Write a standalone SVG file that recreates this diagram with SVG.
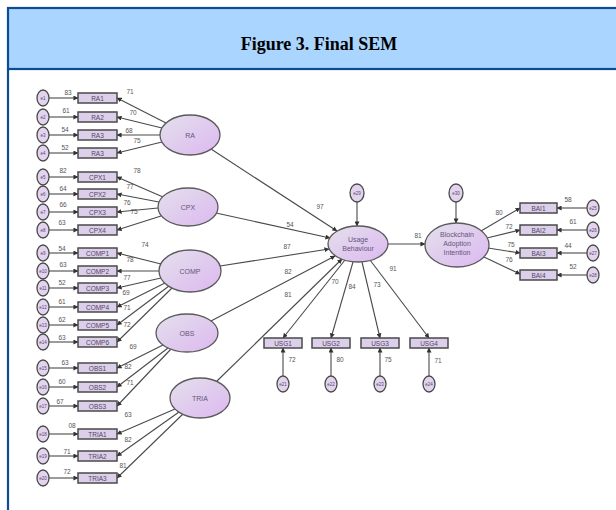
<svg xmlns="http://www.w3.org/2000/svg" width="616" height="510" viewBox="0 0 616 510">
<defs>
<marker id="ah" viewBox="0 0 6 6" refX="5.5" refY="3" markerWidth="5" markerHeight="5" orient="auto" markerUnits="userSpaceOnUse">
<path d="M0,0 L6,3 L0,6 Z" fill="#333"/>
</marker>
<linearGradient id="lg" x1="0" y1="0" x2="1" y2="1">
<stop offset="0" stop-color="#e4e0ec"/>
<stop offset="1" stop-color="#dcb8f0"/>
</linearGradient>
</defs>
<style>
.lat{fill:url(#lg);stroke:#5a5a5a;stroke-width:1.3}
.obs{fill:#dccfea;stroke:#4a4a4a;stroke-width:1.5}
.err{fill:#e2d4ee;stroke:#4a4a4a;stroke-width:1.3}
.ln{stroke:#4a4a4a;stroke-width:1.1;fill:none;marker-end:url(#ah)}
.t{font-family:"Liberation Sans",Arial,sans-serif;font-size:6.5px;fill:#554466;text-anchor:middle}
.n{font-family:"Liberation Sans",Arial,sans-serif;font-size:6.5px;fill:#555;text-anchor:middle}
.e{font-family:"Liberation Sans",Arial,sans-serif;font-size:4.5px;fill:#554466;text-anchor:middle}
.lt{font-family:"Liberation Sans",Arial,sans-serif;font-size:7px;fill:#65557a;text-anchor:middle}
</style>
<rect x="0" y="0" width="616" height="510" fill="#fff"/>
<g id="header">
<rect x="8" y="8" width="612" height="61" fill="#a9d5ff" stroke="#0b4c92" stroke-width="2.2"/>
<line x1="8" y1="69" x2="8" y2="510" stroke="#0b4c92" stroke-width="2.2"/>
<text x="319" y="50" font-family="Liberation Serif,'Times New Roman',serif" font-weight="bold" font-size="18" text-anchor="middle" fill="#000">Figure 3. Final SEM</text>
</g>
<g id="connectors">
<line class="ln" x1="49" y1="98" x2="78" y2="98"/>
<line class="ln" x1="49" y1="117" x2="78" y2="117"/>
<line class="ln" x1="49" y1="135" x2="78" y2="135"/>
<line class="ln" x1="49" y1="153" x2="78" y2="153"/>
<line class="ln" x1="49" y1="177" x2="78" y2="177"/>
<line class="ln" x1="49" y1="194" x2="78" y2="194"/>
<line class="ln" x1="49" y1="212" x2="78" y2="212"/>
<line class="ln" x1="49" y1="230" x2="78" y2="230"/>
<line class="ln" x1="49" y1="253" x2="78" y2="253"/>
<line class="ln" x1="49" y1="271" x2="78" y2="271"/>
<line class="ln" x1="49" y1="288" x2="78" y2="288"/>
<line class="ln" x1="49" y1="307" x2="78" y2="307"/>
<line class="ln" x1="49" y1="325" x2="78" y2="325"/>
<line class="ln" x1="49" y1="342" x2="78" y2="342"/>
<line class="ln" x1="49" y1="368" x2="78" y2="368"/>
<line class="ln" x1="49" y1="387" x2="78" y2="387"/>
<line class="ln" x1="49" y1="406" x2="78" y2="406"/>
<line class="ln" x1="49" y1="434" x2="78" y2="434"/>
<line class="ln" x1="49" y1="456" x2="78" y2="456"/>
<line class="ln" x1="49" y1="478" x2="78" y2="478"/>
<line class="ln" x1="166" y1="123" x2="117" y2="98"/>
<line class="ln" x1="162" y1="128" x2="117" y2="117"/>
<line class="ln" x1="160" y1="135" x2="117" y2="135"/>
<line class="ln" x1="162" y1="142" x2="117" y2="153"/>
<line class="ln" x1="163" y1="197" x2="117" y2="177"/>
<line class="ln" x1="159" y1="202" x2="117" y2="194"/>
<line class="ln" x1="158" y1="208" x2="117" y2="212"/>
<line class="ln" x1="161" y1="216" x2="117" y2="230"/>
<line class="ln" x1="161" y1="264" x2="117" y2="253"/>
<line class="ln" x1="159" y1="271" x2="117" y2="271"/>
<line class="ln" x1="161" y1="278" x2="117" y2="288"/>
<line class="ln" x1="165" y1="283" x2="117" y2="307"/>
<line class="ln" x1="169" y1="286" x2="117" y2="325"/>
<line class="ln" x1="172" y1="288" x2="117" y2="342"/>
<line class="ln" x1="163" y1="345" x2="117" y2="368"/>
<line class="ln" x1="168" y1="348" x2="117" y2="387"/>
<line class="ln" x1="171" y1="349" x2="117" y2="406"/>
<line class="ln" x1="175" y1="409" x2="117" y2="434"/>
<line class="ln" x1="179" y1="412" x2="117" y2="456"/>
<line class="ln" x1="183" y1="414" x2="117" y2="478"/>
<line class="ln" x1="211" y1="149" x2="337" y2="231"/>
<line class="ln" x1="216" y1="213" x2="330" y2="238"/>
<line class="ln" x1="220" y1="266" x2="329" y2="249"/>
<line class="ln" x1="211" y1="321" x2="335" y2="256"/>
<line class="ln" x1="217" y1="381" x2="342" y2="259"/>
<line class="ln" x1="388" y1="244" x2="425" y2="244"/>
<line class="ln" x1="357" y1="202" x2="357" y2="226"/>
<line class="ln" x1="456" y1="202" x2="456" y2="223"/>
<line class="ln" x1="345" y1="260" x2="283" y2="338"/>
<line class="ln" x1="353" y1="262" x2="331" y2="338"/>
<line class="ln" x1="362" y1="262" x2="380" y2="338"/>
<line class="ln" x1="370" y1="260" x2="429" y2="338"/>
<line class="ln" x1="283" y1="376" x2="283" y2="348"/>
<line class="ln" x1="331" y1="376" x2="331" y2="348"/>
<line class="ln" x1="380" y1="376" x2="380" y2="348"/>
<line class="ln" x1="429" y1="376" x2="429" y2="348"/>
<line class="ln" x1="481" y1="231" x2="520" y2="208"/>
<line class="ln" x1="487" y1="238" x2="520" y2="230"/>
<line class="ln" x1="488" y1="248" x2="520" y2="253"/>
<line class="ln" x1="484" y1="257" x2="520" y2="274"/>
<line class="ln" x1="587" y1="208" x2="557" y2="208"/>
<line class="ln" x1="587" y1="230" x2="557" y2="230"/>
<line class="ln" x1="587" y1="253" x2="557" y2="253"/>
<line class="ln" x1="587" y1="275" x2="557" y2="275"/>
</g>
<g id="labels">
<text class="n" x="68" y="95">83</text><text class="n" x="66" y="113">61</text><text class="n" x="65" y="132">54</text><text class="n" x="65" y="150">52</text>
<text class="n" x="130" y="94">71</text><text class="n" x="133" y="115">70</text><text class="n" x="129" y="133">68</text><text class="n" x="137" y="143">75</text>
<text class="n" x="63" y="173">82</text><text class="n" x="63" y="191">64</text><text class="n" x="63" y="207">66</text><text class="n" x="62" y="225">63</text>
<text class="n" x="137" y="173">78</text><text class="n" x="130" y="189">77</text><text class="n" x="127" y="205">76</text><text class="n" x="134" y="214">75</text>
<text class="n" x="62" y="251">54</text><text class="n" x="63" y="267">63</text><text class="n" x="62" y="285">52</text><text class="n" x="62" y="304">61</text><text class="n" x="62" y="322">62</text><text class="n" x="62" y="340">63</text>
<text class="n" x="145" y="247">74</text><text class="n" x="130" y="262">78</text><text class="n" x="127" y="280">77</text><text class="n" x="126" y="295">69</text><text class="n" x="127" y="310">71</text><text class="n" x="127" y="327">72</text>
<text class="n" x="65" y="365">63</text><text class="n" x="62" y="384">60</text><text class="n" x="60" y="404">67</text>
<text class="n" x="133" y="349">69</text><text class="n" x="128" y="369">82</text><text class="n" x="130" y="385">71</text>
<text class="n" x="72" y="428">08</text><text class="n" x="67" y="454">71</text><text class="n" x="67" y="474">72</text>
<text class="n" x="128" y="417">63</text><text class="n" x="128" y="442">82</text><text class="n" x="123" y="468">81</text>
<text class="n" x="320" y="209">97</text><text class="n" x="290" y="227">54</text><text class="n" x="287" y="249">87</text><text class="n" x="288" y="274">82</text><text class="n" x="288" y="297">81</text>
<text class="n" x="335" y="284">70</text><text class="n" x="352" y="289">84</text><text class="n" x="377" y="287">73</text><text class="n" x="393" y="271">91</text>
<text class="n" x="292" y="362">72</text><text class="n" x="340" y="362">80</text><text class="n" x="388" y="362">75</text><text class="n" x="438" y="363">71</text>
<text class="n" x="418" y="238">81</text>
<text class="n" x="499" y="215">80</text><text class="n" x="509" y="229">72</text><text class="n" x="511" y="247">75</text><text class="n" x="509" y="262">76</text>
<text class="n" x="568" y="202">58</text><text class="n" x="573" y="224">61</text><text class="n" x="568" y="248">44</text><text class="n" x="573" y="269">52</text>
</g>
<g id="RA"><ellipse class="lat" cx="190" cy="135" rx="30" ry="20"/><text class="lt" x="190" y="137.5">RA</text></g>
<g id="CPX"><ellipse class="lat" cx="188" cy="207" rx="30" ry="19"/><text class="lt" x="188" y="209.5">CPX</text></g>
<g id="COMP"><ellipse class="lat" cx="190" cy="271" rx="31" ry="21"/><text class="lt" x="190" y="273.5">COMP</text></g>
<g id="OBS"><ellipse class="lat" cx="187" cy="333" rx="31" ry="19"/><text class="lt" x="187" y="335.5">OBS</text></g>
<g id="TRIA"><ellipse class="lat" cx="200" cy="398" rx="30" ry="20"/><text class="lt" x="200" y="400.5">TRIA</text></g>
<g id="UB"><ellipse class="lat" cx="358" cy="244" rx="30" ry="18"/><text class="lt" x="358" y="242">Usage</text><text class="lt" x="358" y="251">Behaviour</text></g>
<g id="BAI"><ellipse class="lat" cx="457" cy="245" rx="32" ry="22"/><text class="lt" x="457" y="237">Blockchain</text><text class="lt" x="457" y="246">Adoption</text><text class="lt" x="457" y="255">Intention</text></g>
<g id="e_UB"><ellipse class="err" cx="357" cy="193" rx="7" ry="9"/><text class="e" x="357" y="194.5">e29</text></g>
<g id="e_BAI"><ellipse class="err" cx="456" cy="193" rx="7" ry="9"/><text class="e" x="456" y="194.5">e30</text></g>
<g id="RA1"><rect class="obs" x="78" y="93" width="39" height="10"/><text class="t" x="97.5" y="100.5">RA1</text></g>
<g id="RA2"><rect class="obs" x="78" y="112" width="39" height="10"/><text class="t" x="97.5" y="119.5">RA2</text></g>
<g id="RA3"><rect class="obs" x="78" y="130" width="39" height="10"/><text class="t" x="97.5" y="137.5">RA3</text></g>
<g id="RA4"><rect class="obs" x="78" y="148" width="39" height="10"/><text class="t" x="97.5" y="155.5">RA3</text></g>
<g id="CPX1"><rect class="obs" x="78" y="172" width="39" height="10"/><text class="t" x="97.5" y="179.5">CPX1</text></g>
<g id="CPX2"><rect class="obs" x="78" y="189" width="39" height="10"/><text class="t" x="97.5" y="196.5">CPX2</text></g>
<g id="CPX3"><rect class="obs" x="78" y="207" width="39" height="10"/><text class="t" x="97.5" y="214.5">CPX3</text></g>
<g id="CPX4"><rect class="obs" x="78" y="225" width="39" height="10"/><text class="t" x="97.5" y="232.5">CPX4</text></g>
<g id="COMP1"><rect class="obs" x="78" y="248" width="39" height="10"/><text class="t" x="97.5" y="255.5">COMP1</text></g>
<g id="COMP2"><rect class="obs" x="78" y="266" width="39" height="10"/><text class="t" x="97.5" y="273.5">COMP2</text></g>
<g id="COMP3"><rect class="obs" x="78" y="283" width="39" height="10"/><text class="t" x="97.5" y="290.5">COMP3</text></g>
<g id="COMP4"><rect class="obs" x="78" y="302" width="39" height="10"/><text class="t" x="97.5" y="309.5">COMP4</text></g>
<g id="COMP5"><rect class="obs" x="78" y="320" width="39" height="10"/><text class="t" x="97.5" y="327.5">COMP5</text></g>
<g id="COMP6"><rect class="obs" x="78" y="337" width="39" height="10"/><text class="t" x="97.5" y="344.5">COMP6</text></g>
<g id="OBS1"><rect class="obs" x="78" y="363" width="39" height="10"/><text class="t" x="97.5" y="370.5">OBS1</text></g>
<g id="OBS2"><rect class="obs" x="78" y="382" width="39" height="10"/><text class="t" x="97.5" y="389.5">OBS2</text></g>
<g id="OBS3"><rect class="obs" x="78" y="401" width="39" height="10"/><text class="t" x="97.5" y="408.5">OBS3</text></g>
<g id="TRIA1"><rect class="obs" x="78" y="429" width="39" height="10"/><text class="t" x="97.5" y="436.5">TRIA1</text></g>
<g id="TRIA2"><rect class="obs" x="78" y="451" width="39" height="10"/><text class="t" x="97.5" y="458.5">TRIA2</text></g>
<g id="TRIA3"><rect class="obs" x="78" y="473" width="39" height="10"/><text class="t" x="97.5" y="480.5">TRIA3</text></g>
<g id="USG1"><rect class="obs" x="264" y="338" width="38" height="10"/><text class="t" x="283" y="345.5">USG1</text></g>
<g id="USG2"><rect class="obs" x="312" y="338" width="38" height="10"/><text class="t" x="331" y="345.5">USG2</text></g>
<g id="USG3"><rect class="obs" x="361" y="338" width="38" height="10"/><text class="t" x="380" y="345.5">USG3</text></g>
<g id="USG4"><rect class="obs" x="410" y="338" width="38" height="10"/><text class="t" x="429" y="345.5">USG4</text></g>
<g id="BAI1"><rect class="obs" x="520" y="203" width="37" height="10"/><text class="t" x="538.5" y="210.5">BAI1</text></g>
<g id="BAI2"><rect class="obs" x="520" y="225" width="37" height="10"/><text class="t" x="538.5" y="232.5">BAI2</text></g>
<g id="BAI3"><rect class="obs" x="520" y="248" width="37" height="10"/><text class="t" x="538.5" y="255.5">BAI3</text></g>
<g id="BAI4"><rect class="obs" x="520" y="270" width="37" height="10"/><text class="t" x="538.5" y="277.5">BAI4</text></g>
<g id="errors">
<g id="e1"><ellipse class="err" cx="43" cy="98" rx="6" ry="8"/><text class="e" x="43" y="99.5">e1</text></g>
<g id="e2"><ellipse class="err" cx="43" cy="117" rx="6" ry="8"/><text class="e" x="43" y="118.5">e2</text></g>
<g id="e3"><ellipse class="err" cx="43" cy="135" rx="6" ry="8"/><text class="e" x="43" y="136.5">e3</text></g>
<g id="e4"><ellipse class="err" cx="43" cy="153" rx="6" ry="8"/><text class="e" x="43" y="154.5">e4</text></g>
<g id="e5"><ellipse class="err" cx="43" cy="177" rx="6" ry="8"/><text class="e" x="43" y="178.5">e5</text></g>
<g id="e6"><ellipse class="err" cx="43" cy="194" rx="6" ry="8"/><text class="e" x="43" y="195.5">e6</text></g>
<g id="e7"><ellipse class="err" cx="43" cy="212" rx="6" ry="8"/><text class="e" x="43" y="213.5">e7</text></g>
<g id="e8"><ellipse class="err" cx="43" cy="230" rx="6" ry="8"/><text class="e" x="43" y="231.5">e8</text></g>
<g id="e9"><ellipse class="err" cx="43" cy="253" rx="6" ry="8"/><text class="e" x="43" y="254.5">e9</text></g>
<g id="e10"><ellipse class="err" cx="43" cy="271" rx="6" ry="8"/><text class="e" x="43" y="272.5">e10</text></g>
<g id="e11"><ellipse class="err" cx="43" cy="288" rx="6" ry="8"/><text class="e" x="43" y="289.5">e11</text></g>
<g id="e12"><ellipse class="err" cx="43" cy="307" rx="6" ry="8"/><text class="e" x="43" y="308.5">e12</text></g>
<g id="e13"><ellipse class="err" cx="43" cy="325" rx="6" ry="8"/><text class="e" x="43" y="326.5">e13</text></g>
<g id="e14"><ellipse class="err" cx="43" cy="342" rx="6" ry="8"/><text class="e" x="43" y="343.5">e14</text></g>
<g id="e15"><ellipse class="err" cx="43" cy="368" rx="6" ry="8"/><text class="e" x="43" y="369.5">e15</text></g>
<g id="e16"><ellipse class="err" cx="43" cy="387" rx="6" ry="8"/><text class="e" x="43" y="388.5">e16</text></g>
<g id="e17"><ellipse class="err" cx="43" cy="406" rx="6" ry="8"/><text class="e" x="43" y="407.5">e17</text></g>
<g id="e18"><ellipse class="err" cx="43" cy="434" rx="6" ry="8"/><text class="e" x="43" y="435.5">e18</text></g>
<g id="e19"><ellipse class="err" cx="43" cy="456" rx="6" ry="8"/><text class="e" x="43" y="457.5">e19</text></g>
<g id="e20"><ellipse class="err" cx="43" cy="478" rx="6" ry="8"/><text class="e" x="43" y="479.5">e20</text></g>
<g id="e21"><ellipse class="err" cx="283" cy="384" rx="6" ry="8"/><text class="e" x="283" y="385.5">e21</text></g>
<g id="e22"><ellipse class="err" cx="331" cy="384" rx="6" ry="8"/><text class="e" x="331" y="385.5">e22</text></g>
<g id="e23"><ellipse class="err" cx="380" cy="384" rx="6" ry="8"/><text class="e" x="380" y="385.5">e23</text></g>
<g id="e24"><ellipse class="err" cx="429" cy="384" rx="6" ry="8"/><text class="e" x="429" y="385.5">e24</text></g>
<g id="e25"><ellipse class="err" cx="593" cy="208" rx="6" ry="8"/><text class="e" x="593" y="209.5">e25</text></g>
<g id="e26"><ellipse class="err" cx="593" cy="230" rx="6" ry="8"/><text class="e" x="593" y="231.5">e26</text></g>
<g id="e27"><ellipse class="err" cx="593" cy="253" rx="6" ry="8"/><text class="e" x="593" y="254.5">e27</text></g>
<g id="e28"><ellipse class="err" cx="593" cy="275" rx="6" ry="8"/><text class="e" x="593" y="276.5">e28</text></g>
</g>
</svg>
